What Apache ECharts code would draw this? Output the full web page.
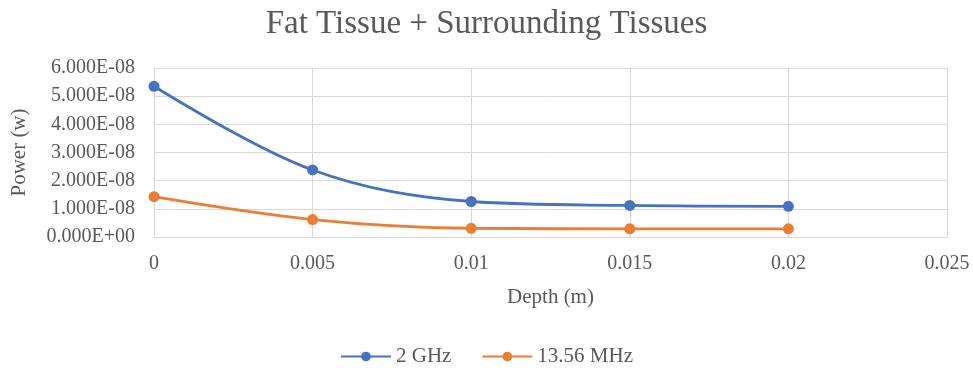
<!DOCTYPE html>
<html>
<head>
<meta charset="utf-8">
<script src="https://cdn.jsdelivr.net/npm/echarts@6/dist/echarts.min.js"></script>
<style>
  html, body { margin: 0; padding: 0; background: #fff; }
  #grafico { width: 973px; height: 372px; }
</style>
</head>
<body>
<div id="grafico"></div>
<script>
// datos
const profundidad = [0, 0.005, 0.01, 0.015, 0.02];
const potencia2GHz = [5.35e-8, 2.38e-8, 1.26e-8, 1.12e-8, 1.09e-8];
const potencia1356MHz = [1.43e-8, 0.62e-8, 0.31e-8, 0.29e-8, 0.29e-8];
const nombresSeries = ['2 GHz', '13.56 MHz'];

// formato tipo Excel: 6.000E-08
const formatoCientifico = (v) => {
    if (v === 0) return '0.000E+00';
    const partes = v.toExponential(3).split('e');
    const exp = parseInt(partes[1], 10);
    const signo = exp < 0 ? '-' : '+';
    const abs = Math.abs(exp);
    return partes[0] + 'E' + signo + (abs < 10 ? '0' + abs : abs);
};

const fuente = '"Liberation Serif", "Times New Roman", serif';
const grafico = echarts.init(document.getElementById('grafico'));

const option = {
    backgroundColor: '#fff',
    textStyle: { fontFamily: fuente },
    title: {
        text: 'Fat Tissue + Surrounding Tissues',
        left: 'center',
        top: 3,
        textStyle: { fontFamily: fuente, fontSize: 33, fontWeight: 'normal', color: '#595959' }
    },
    legend: {
        bottom: 0,
        left: 'center',
        itemWidth: 50,
        itemHeight: 12,
        itemGap: 30,
        textStyle: { fontFamily: fuente, fontSize: 21, color: '#595959' },
        data: nombresSeries
    },
    grid: { left: 154, right: 26, top: 68, bottom: 135 },
    xAxis: {
        type: 'value',
        min: 0,
        max: 0.025,
        interval: 0.005,
        name: 'Depth (m)',
        nameLocation: 'middle',
        nameGap: 50,
        nameTextStyle: { fontFamily: fuente, fontSize: 21, color: '#595959' },
        axisLine: { show: true, lineStyle: { color: '#d9d9d9' } },
        axisTick: { show: false },
        axisLabel: { fontFamily: fuente, fontSize: 20, color: '#595959', margin: 17 },
        splitLine: { show: true, lineStyle: { color: '#d9d9d9' } }
    },
    yAxis: {
        type: 'value',
        min: 0,
        max: 6e-8,
        interval: 1e-8,
        name: 'Power (w)',
        nameLocation: 'middle',
        nameGap: 124,
        nameTextStyle: { fontFamily: fuente, fontSize: 21, color: '#595959' },
        axisLine: { show: true, lineStyle: { color: '#d9d9d9' } },
        axisTick: { show: false },
        axisLabel: { fontFamily: fuente, fontSize: 20, color: '#595959', margin: 19, formatter: formatoCientifico },
        splitLine: { show: true, lineStyle: { color: '#d9d9d9' } }
    },
    series: [
        {
            name: nombresSeries[0],
            type: 'line',
            smooth: 0.35,
            data: profundidad.map((x, i) => [x, potencia2GHz[i]]),
            symbol: 'circle',
            symbolSize: 11,
            lineStyle: { width: 2.8, color: '#4472C4' },
            itemStyle: { color: '#4472C4' }
        },
        {
            name: nombresSeries[1],
            type: 'line',
            smooth: 0.35,
            data: profundidad.map((x, i) => [x, potencia1356MHz[i]]),
            symbol: 'circle',
            symbolSize: 11,
            lineStyle: { width: 2.8, color: '#ED7D31' },
            itemStyle: { color: '#ED7D31' }
        }
    ]
};

grafico.setOption(option);
</script>
</body>
</html>
